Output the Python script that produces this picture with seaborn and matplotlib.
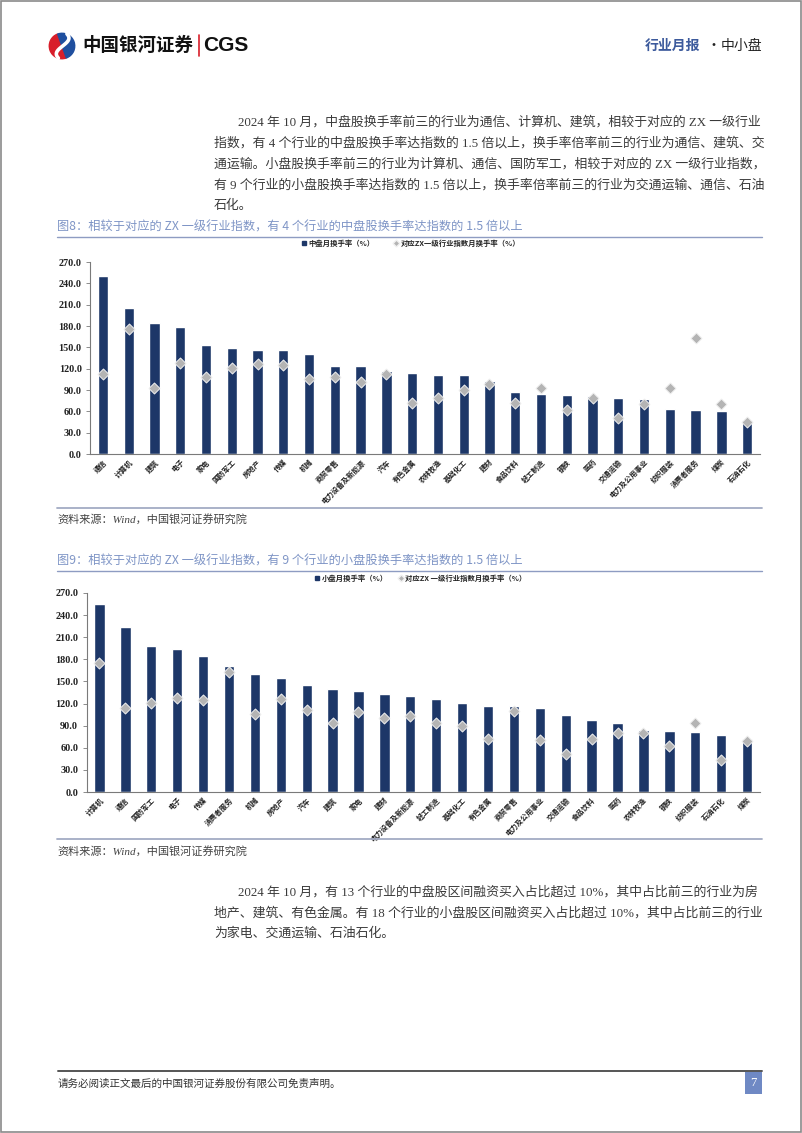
import numpy as np
import pandas as pd
import matplotlib
matplotlib.use("Agg")
import matplotlib.pyplot as plt
import seaborn as sns
from matplotlib.patches import Rectangle, Wedge, Patch
from matplotlib.lines import Line2D

# ---------------- data ----------------
mid_industries = ["通信", "计算机", "建筑", "电子", "家电", "国防军工", "房地产", "传媒", "机械",
                  "商贸零售", "电力设备及新能源", "汽车", "有色金属", "农林牧渔", "基础化工", "建材",
                  "食品饮料", "轻工制造", "钢铁", "医药", "交通运输", "电力及公用事业", "纺织服装",
                  "消费者服务", "煤炭", "石油石化"]
mid_turnover = [249.8, 205.3, 184.2, 179.0, 153.8, 149.5, 146.3, 146.3, 141.1, 124.2, 124.2, 116.7,
                113.4, 110.6, 110.6, 103.1, 86.7, 84.4, 82.5, 81.1, 79.2, 77.8, 63.3, 61.9, 60.5, 47.8]
mid_index = [112.5, 175.8, 92.8, 127.5, 108.3, 121.0, 126.6, 125.6, 105.0, 108.3, 101.7, 113.0,
             71.7, 78.8, 90.0, 98.9, 71.7, 92.8, 62.3, 78.8, 50.6, 70.8, 92.8, 162.7, 69.9, 44.5]

small_industries = ["计算机", "通信", "国防军工", "电子", "传媒", "消费者服务", "机械", "房地产", "汽车",
                    "建筑", "家电", "建材", "电力设备及新能源", "轻工制造", "基础化工", "有色金属",
                    "商贸零售", "电力及公用事业", "交通运输", "食品饮料", "医药", "农林牧渔", "钢铁",
                    "纺织服装", "石油石化", "煤炭"]
small_turnover = [255.5, 223.9, 198.2, 193.7, 184.2, 171.6, 160.3, 154.9, 144.5, 140.0, 137.2, 133.6,
                  130.0, 126.0, 120.5, 116.9, 116.9, 113.3, 104.3, 97.5, 93.0, 83.5, 82.6, 80.8, 76.7, 71.8]
small_index = [175.6, 113.3, 121.4, 127.3, 125.5, 163.4, 105.6, 126.4, 111.5, 93.0, 108.8, 99.8,
               102.9, 93.0, 89.8, 72.2, 109.7, 70.9, 51.5, 72.2, 79.9, 80.4, 62.8, 93.9, 43.3, 69.5]

y_ticks = [0, 30, 60, 90, 120, 150, 180, 210, 240, 270]

# ---------------- style ----------------
sns.set_theme(style="white")
plt.rcParams["font.family"] = ["Liberation Serif", "Noto Sans CJK SC", "DejaVu Sans"]
plt.rcParams["axes.unicode_minus"] = False

NAVY = "#1d3768"
MARK = "#b4b4b4"
CJK = ["Noto Sans CJK SC", "DejaVu Sans"]
SERIF_CJK = ["Liberation Serif", "Noto Sans CJK SC", "DejaVu Sans"]
TXT = "#3a3a3a"

W, H = 802, 1133
fig = plt.figure(figsize=(W / 100, H / 100), dpi=100)
fig.patch.set_facecolor("white")


def X(x):
    return x / W


def Y(y):
    return 1 - y / H


def hline(x0, x1, y, color, lw):
    fig.add_artist(Line2D([X(x0), X(x1)], [Y(y), Y(y)], transform=fig.transFigure,
                          color=color, lw=lw))


# page border
fig.add_artist(Rectangle((0.0008, 0.0006), 0.9984, 0.9988, transform=fig.transFigure,
                         fill=False, edgecolor="#8a8a8a", lw=1.2))

# ---------------- header ----------------
lax = fig.add_axes([X(44), Y(60), X(36), 28 / H])
lax.set_xlim(-1.1, 1.1)
lax.set_ylim(-1.1, 1.1)
lax.set_aspect("equal")
lax.axis("off")
lax.add_patch(Wedge((0, 0), 1.0, 110, 290, color="#d81e2a"))
lax.add_patch(Wedge((0, 0), 1.0, -70, 110, color="#1f4f9f"))
t = np.linspace(-1, 1, 60)
lax.plot(0.55 * np.sin(t * 2.4) * 0.9 + 0.05, t * 0.95, color="white", lw=2.6, solid_capstyle="round")

fig.text(X(82), Y(45), "中国银河证券", fontsize=13.3, fontweight="bold", family=CJK,
         color="#111111", va="center", ha="left")
fig.add_artist(Line2D([X(199), X(199)], [Y(35), Y(56)], transform=fig.transFigure,
                      color="#d81e2a", lw=1.2))
fig.text(X(203), Y(45.5), "CGS", fontsize=15, fontweight="bold", family=["Liberation Sans"],
         color="#111111", va="center", ha="left")

fig.text(X(645), Y(46), "行业月报", fontsize=10, fontweight="bold", family=CJK,
         color="#3c5a9c", va="center", ha="left")
fig.text(X(706), Y(46), "·", fontsize=10, family=CJK, color="#222222", va="center", ha="left")
fig.text(X(721), Y(46), "中小盘", fontsize=10, family=CJK, color="#222222", va="center", ha="left")

# ---------------- paragraphs ----------------
top_para = [
    (238, 122, "2024 年 10 月，中盘股换手率前三的行业为通信、计算机、建筑，相较于对应的 ZX 一级行业"),
    (214, 143, "指数，有 4 个行业的中盘股换手率达指数的 1.5 倍以上，换手率倍率前三的行业为通信、建筑、交"),
    (214, 164, "通运输。小盘股换手率前三的行业为计算机、通信、国防军工，相较于对应的 ZX 一级行业指数，"),
    (214, 185, "有 9 个行业的小盘股换手率达指数的 1.5 倍以上，换手率倍率前三的行业为交通运输、通信、石油"),
    (214, 206, "石化。"),
]
bottom_para = [
    (238, 892, "2024 年 10 月，有 13 个行业的中盘股区间融资买入占比超过 10%，其中占比前三的行业为房"),
    (214, 913, "地产、建筑、有色金属。有 18 个行业的小盘股区间融资买入占比超过 10%，其中占比前三的行业"),
    (214, 934, "为家电、交通运输、石油石化。"),
]
for x, y, s in top_para + bottom_para:
    fig.text(X(x), Y(y), s, fontsize=9.3, family=SERIF_CJK, color=TXT, va="center", ha="left")


# ---------------- charts ----------------
def draw_chart(ax, cats, bars, marks):
    df = pd.DataFrame({"cat": cats, "bar": bars, "idx": marks})
    sns.barplot(data=df, x="cat", y="bar", order=cats, color=NAVY, saturation=1,
                width=0.4, ax=ax, zorder=2)
    sns.stripplot(data=df, x="cat", y="idx", order=cats, jitter=False, marker="D", size=5.6,
                  color=MARK, edgecolor="#f0f0f0", linewidth=0.7, ax=ax, zorder=3)
    ax.set_xlim(-0.5, len(cats) - 0.5)
    ax.set_ylim(0, 270)
    ax.set_yticks(y_ticks)
    ax.set_yticklabels([f"{v:.1f}" for v in y_ticks], fontsize=7.3, fontweight="bold",
                       family=["Liberation Serif"], color="#222222")
    ax.set_xticks(range(len(cats)))
    ax.set_xticklabels(cats, rotation=45, ha="right", va="top", rotation_mode="anchor",
                       fontsize=5.2, fontweight="bold", family=CJK, color="#222222")
    ax.set_xlabel("")
    ax.set_ylabel("")
    for s in ["top", "right"]:
        ax.spines[s].set_visible(False)
    for s in ["left", "bottom"]:
        ax.spines[s].set_color("#7a7a7a")
        ax.spines[s].set_linewidth(0.8)
    ax.tick_params(axis="y", left=True, length=3, width=0.6, color="#7a7a7a",
                   direction="out", pad=3)
    ax.tick_params(axis="x", bottom=False, length=0, pad=3)
    ax.patch.set_alpha(0)


def legend(x, y, lab1, lab2, colsp):
    handles = [Patch(facecolor=NAVY, edgecolor=NAVY),
               Line2D([], [], marker="D", ls="none", color=MARK, markeredgecolor="#f0f0f0",
                      markersize=3.5)]
    fig.legend(handles, [lab1, lab2], loc="center left", bbox_to_anchor=(X(x), Y(y)),
               bbox_transform=fig.transFigure, ncol=2, frameon=False,
               prop=dict(family=CJK, weight="bold", size=5.3),
               handlelength=0.55, handleheight=0.55, handletextpad=0.35,
               columnspacing=colsp, borderpad=0, borderaxespad=0)


TITLE_C = "#7f95c6"
LINE_C = "#8e9cc2"

# Figure 8
fig.text(X(57), Y(227), "图8：相较于对应的 ZX 一级行业指数，有 4 个行业的中盘股换手率达指数的 1.5 倍以上",
         fontsize=8.8, family=CJK, color=TITLE_C, va="center", ha="left")
hline(57, 762, 237, LINE_C, 1.0)
legend(302, 243, "中盘月换手率（%）", "对应ZX一级行业指数月换手率（%）", 2.6)
ax1 = fig.add_axes([X(90), Y(454), (760 - 90) / W, (454 - 262) / H])
draw_chart(ax1, mid_industries, mid_turnover, mid_index)
hline(57, 762, 508, "#a3abc4", 1.3)
fig.text(X(57), Y(519), "资料来源：Wind，中国银河证券研究院", fontsize=8, style="italic",
         family=SERIF_CJK, color="#444444", va="center", ha="left")

# Figure 9
fig.text(X(57), Y(561), "图9：相较于对应的 ZX 一级行业指数，有 9 个行业的小盘股换手率达指数的 1.5 倍以上",
         fontsize=8.8, family=CJK, color=TITLE_C, va="center", ha="left")
hline(57, 762, 571, LINE_C, 1.0)
legend(315, 578, "小盘月换手率（%）", "对应ZX 一级行业指数月换手率（%）", 1.5)
ax2 = fig.add_axes([X(86.5), Y(792), (760 - 86.5) / W, (792 - 593) / H])
draw_chart(ax2, small_industries, small_turnover, small_index)
hline(57, 762, 839, "#a3abc4", 1.3)
fig.text(X(57), Y(851), "资料来源：Wind，中国银河证券研究院", fontsize=8, style="italic",
         family=SERIF_CJK, color="#444444", va="center", ha="left")

# ---------------- footer ----------------
hline(58, 762, 1071, "#555555", 1.4)
fig.text(X(58), Y(1084), "请务必阅读正文最后的中国银河证券股份有限公司免责声明。", fontsize=7.6,
         family=CJK, color="#333333", va="center", ha="left")
fig.add_artist(Rectangle((X(745), Y(1094)), 17 / W, 22 / H, transform=fig.transFigure,
                         facecolor="#6f89c4", edgecolor="none"))
fig.text(X(753.5), Y(1083), "7", fontsize=9, family=["Liberation Serif"], color="white",
         va="center", ha="center")

fig.savefig("out.png", dpi=100, facecolor="white")
